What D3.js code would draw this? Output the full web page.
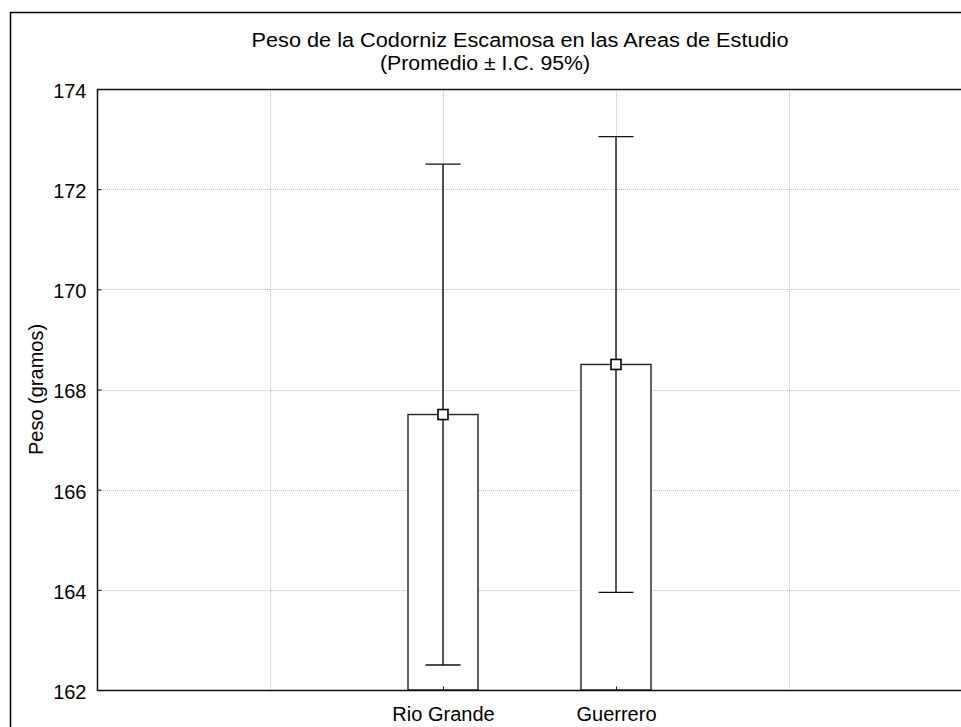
<!DOCTYPE html>
<html>
<head>
<meta charset="utf-8">
<script src="https://cdn.jsdelivr.net/npm/d3@7"></script>
<style>
  html, body { margin: 0; padding: 0; background: #fff; }
  svg { display: block; }
  text { font-family: "Liberation Sans", Arial, sans-serif; fill: #000; }
</style>
</head>
<body>
<svg id="chart" width="961" height="727"></svg>
<script>
// Mean weight per study area with 95% confidence interval
const categories = ["Rio Grande", "Guerrero"];
const categoryPos = [2, 3];
const means = [167.5, 168.5];
const ciLower = [162.5, 163.95];
const ciUpper = [172.5, 173.05];
const yTicks = [162, 164, 166, 168, 170, 172, 174];
const xGrid = [1, 2, 3, 4];

const svg = d3.select("#chart");
const fs = 20;

// outer frame
svg.append("rect")
  .attr("x", 10.5).attr("y", 12.5)
  .attr("width", 980).attr("height", 760)
  .attr("fill", "none").attr("stroke", "#000").attr("stroke-width", 1.5);

const pLeft = 97, pTop = 89, pBottom = 690, pRight = 962;

const x = d3.scaleLinear().domain([0, 5]).range([pLeft, pRight]);
const y = d3.scaleLinear().domain([162, 174]).range([pBottom, pTop]);

// grid lines
const grid = svg.append("g")
  .attr("stroke", "#c4c4c4").attr("stroke-width", 1)
  .attr("stroke-dasharray", "1,1");
grid.selectAll("line.h").data(yTicks.slice(1, -1)).join("line").attr("class", "h")
  .attr("x1", pLeft).attr("x2", pRight)
  .attr("y1", d => Math.round(y(d)) + 0.5).attr("y2", d => Math.round(y(d)) + 0.5);
grid.selectAll("line.v").data(xGrid).join("line").attr("class", "v")
  .attr("y1", pTop).attr("y2", pBottom)
  .attr("x1", d => Math.round(x(d)) + 0.5).attr("x2", d => Math.round(x(d)) + 0.5);

// bars (mean) from the axis baseline
const barW = 70;
svg.append("g").selectAll("rect").data(means).join("rect")
  .attr("x", (d, i) => x(categoryPos[i]) - barW / 2)
  .attr("y", d => y(d))
  .attr("width", barW)
  .attr("height", d => y(162) - y(d))
  .attr("fill", "#fff").attr("stroke", "#222").attr("stroke-width", 1.4);

// confidence interval whiskers
const capW = 35;
const wg = svg.append("g").attr("stroke", "#111").attr("stroke-width", 1.4);
categories.forEach((c, i) => {
  const cx = x(categoryPos[i]);
  wg.append("line").attr("x1", cx).attr("x2", cx)
    .attr("y1", y(ciLower[i])).attr("y2", y(ciUpper[i]));
  wg.append("line").attr("x1", cx - capW / 2).attr("x2", cx + capW / 2)
    .attr("y1", y(ciUpper[i])).attr("y2", y(ciUpper[i]));
  wg.append("line").attr("x1", cx - capW / 2).attr("x2", cx + capW / 2)
    .attr("y1", y(ciLower[i])).attr("y2", y(ciLower[i]));
});

// mean markers
const mk = 10;
svg.append("g").selectAll("rect").data(means).join("rect")
  .attr("x", (d, i) => x(categoryPos[i]) - mk / 2)
  .attr("y", d => y(d) - mk / 2)
  .attr("width", mk).attr("height", mk)
  .attr("fill", "#fff").attr("stroke", "#000").attr("stroke-width", 1.6);

// plot frame
svg.append("path")
  .attr("d", `M${pRight},${pTop + 0.5} H${pLeft + 0.5} V${pBottom + 0.5} H${pRight}`)
  .attr("fill", "none").attr("stroke", "#111").attr("stroke-width", 1.5);

// y axis
const yAxis = d3.axisLeft(y).tickValues(yTicks).tickSize(-4).tickPadding(11).tickFormat(d3.format("d"));
const ya = svg.append("g").attr("transform", `translate(${pLeft + 0.5},0)`).call(yAxis);
ya.select(".domain").remove();
ya.selectAll(".tick line").attr("stroke", "#111");
ya.selectAll(".tick text").attr("font-size", fs).attr("dy", "0.42em")
  .attr("font-family", "Liberation Sans, Arial, sans-serif");

// x axis
const xAxis = d3.axisBottom(x).tickValues(categoryPos).tickSize(-4).tickPadding(16)
  .tickFormat((d, i) => categories[i]);
const xa = svg.append("g").attr("transform", `translate(0,${pBottom + 0.5})`).call(xAxis);
xa.select(".domain").remove();
xa.selectAll(".tick line").attr("stroke", "#111");
xa.selectAll(".tick text").attr("font-size", fs)
  .attr("font-family", "Liberation Sans, Arial, sans-serif");

// title
svg.append("text").attr("x", 520).attr("y", 47).attr("text-anchor", "middle")
  .attr("font-size", fs).attr("textLength", 537).attr("lengthAdjust", "spacingAndGlyphs")
  .text("Peso de la Codorniz Escamosa en las Areas de Estudio");
svg.append("text").attr("x", 380).attr("y", 70).attr("text-anchor", "start")
  .attr("font-size", fs).attr("textLength", 210).attr("lengthAdjust", "spacingAndGlyphs")
  .text("(Promedio ± I.C. 95%)");

// y axis title
svg.append("text")
  .attr("transform", `translate(43,${(pTop + pBottom) / 2}) rotate(-90)`)
  .attr("text-anchor", "middle").attr("font-size", fs)
  .text("Peso (gramos)");
</script>
</body>
</html>
